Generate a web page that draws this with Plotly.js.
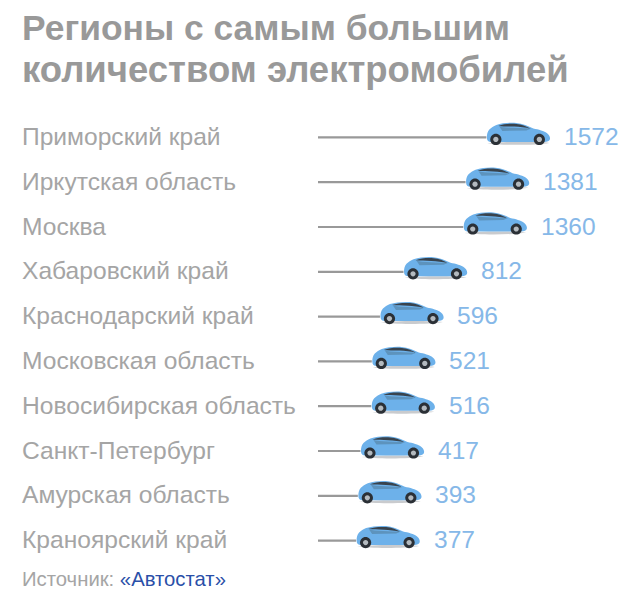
<!DOCTYPE html>
<html><head><meta charset="utf-8">
<script src="https://cdn.plot.ly/plotly-3.0.1.min.js"></script>
<style>html,body{margin:0;padding:0;background:#fff}#c{width:640px;height:591px}</style>
</head><body><div id="c"></div>
<script>
const regions = ["Приморский край","Иркутская область","Москва","Хабаровский край","Краснодарский край","Московская область","Новосибирская область","Санкт-Петербург","Амурская область","Краноярский край"];
const counts = [1572,1381,1360,812,596,521,516,417,393,377];
const titleLines = ["Регионы с самым большим","количеством электромобилей"];
const sourceLabel = "Источник: ";
const sourceName = "«Автостат»";

const FONT = "Liberation Sans, Arial, sans-serif";
const LEFT = 315, PXPER = 0.109, LINE_START = 3/PXPER;
const BODY = "M0.5,0 C0.5,3 1,6 3,8 C5,10 7,11 10,12.5 C16,14.5 24,15 30,14.5 C36,14 42,11.5 47,9 C52,8 58,6.5 61,4 C63.5,2 64,-0.5 63.5,-2 C63,-3.5 61,-4.5 58,-4.5 L5,-4.5 C2,-4.5 0.5,-3 0.5,0 Z";
const GLASS = "M12,11.5 C18,13.8 25,14 30,13.5 C35,13 40,11.2 44,9 C39,9.5 33,10.6 28,10.8 C22,11 16,11 12,11.5 Z";
const WINDOW = "M13,11 C18,9.5 36,9 45,9 L40,7 L16,6.5 Z";
const SHADOW = "M1,-6 C15,-8 50,-8 63,-5.5 C50,-4 15,-4 1,-6 Z";
function circle(cx,cy,r){const k=0.5523*r;return `M${cx-r},${cy} C${cx-r},${cy+k} ${cx-k},${cy+r} ${cx},${cy+r} C${cx+k},${cy+r} ${cx+r},${cy+k} ${cx+r},${cy} C${cx+r},${cy-k} ${cx+k},${cy-r} ${cx},${cy-r} C${cx-k},${cy-r} ${cx-r},${cy-k} ${cx-r},${cy} Z`;}

const shapes = [];
const annotations = [];
regions.forEach((r,i)=>{
  const base = {type:'path',xref:'x',yref:'y',xsizemode:'pixel',ysizemode:'pixel',xanchor:counts[i],yanchor:r,line:{width:0},layer:'above'};
  shapes.push({...base,path:SHADOW,fillcolor:'#c9cbce'});
  shapes.push({...base,path:BODY,fillcolor:'#6db1ea'});
  shapes.push({...base,path:WINDOW,fillcolor:'#5d93bd'});
  shapes.push({...base,path:GLASS,fillcolor:'#39434d'});
  [9.5,53].forEach(cx=>{
    shapes.push({...base,path:circle(cx,-2,5.6),fillcolor:'#2b3036'});
    shapes.push({...base,path:circle(cx,-2,2.6),fillcolor:'#b4babf'});
  });
  annotations.push({xref:'paper',yref:'y',x:0,y:r,xanchor:'left',yanchor:'middle',xshift:-295,yshift:1,showarrow:false,text:r,font:{family:FONT,size:24.6,color:'#a5a5a5'}});
  annotations.push({xref:'x',yref:'y',x:counts[i],y:r,xanchor:'left',yanchor:'middle',xshift:75.5,yshift:1,showarrow:false,text:String(counts[i]),font:{family:FONT,size:24.5,color:'#86b8e8'}});
});
titleLines.forEach((t,i)=>annotations.push({xref:'paper',yref:'paper',x:0,xshift:-295,xanchor:'left',yanchor:'middle',y:(563-[28.5,69.5][i])/448,showarrow:false,text:'<b>'+t+'</b>',font:{family:FONT,size:[35.4,36.5][i],color:'#999999'}}));
annotations.push({xref:'paper',yref:'paper',x:0,xshift:-295,xanchor:'left',yanchor:'middle',y:(563-579)/448,showarrow:false,
  text:sourceLabel+'<span style="color:#2a4fa8">'+sourceName+'</span>',font:{family:FONT,size:20.3,color:'#a5a5a5'}});

Plotly.newPlot('c',[{
  type:'bar',orientation:'h',x:counts.map(v=>v-LINE_START),base:LINE_START,y:regions,width:0.05,marker:{color:'#999999',line:{width:0}},hoverinfo:'y'
}],{
  width:640,height:591,margin:{l:LEFT,r:0,t:115,b:28,pad:0},
  paper_bgcolor:'#fff',plot_bgcolor:'#fff',showlegend:false,
  xaxis:{range:[0,325/PXPER],visible:false,fixedrange:true},
  yaxis:{type:'category',categoryorder:'array',categoryarray:regions,range:[9.5,-0.5],visible:false,fixedrange:true},
  shapes,annotations
},{displayModeBar:false,staticPlot:true});
</script></body></html>
